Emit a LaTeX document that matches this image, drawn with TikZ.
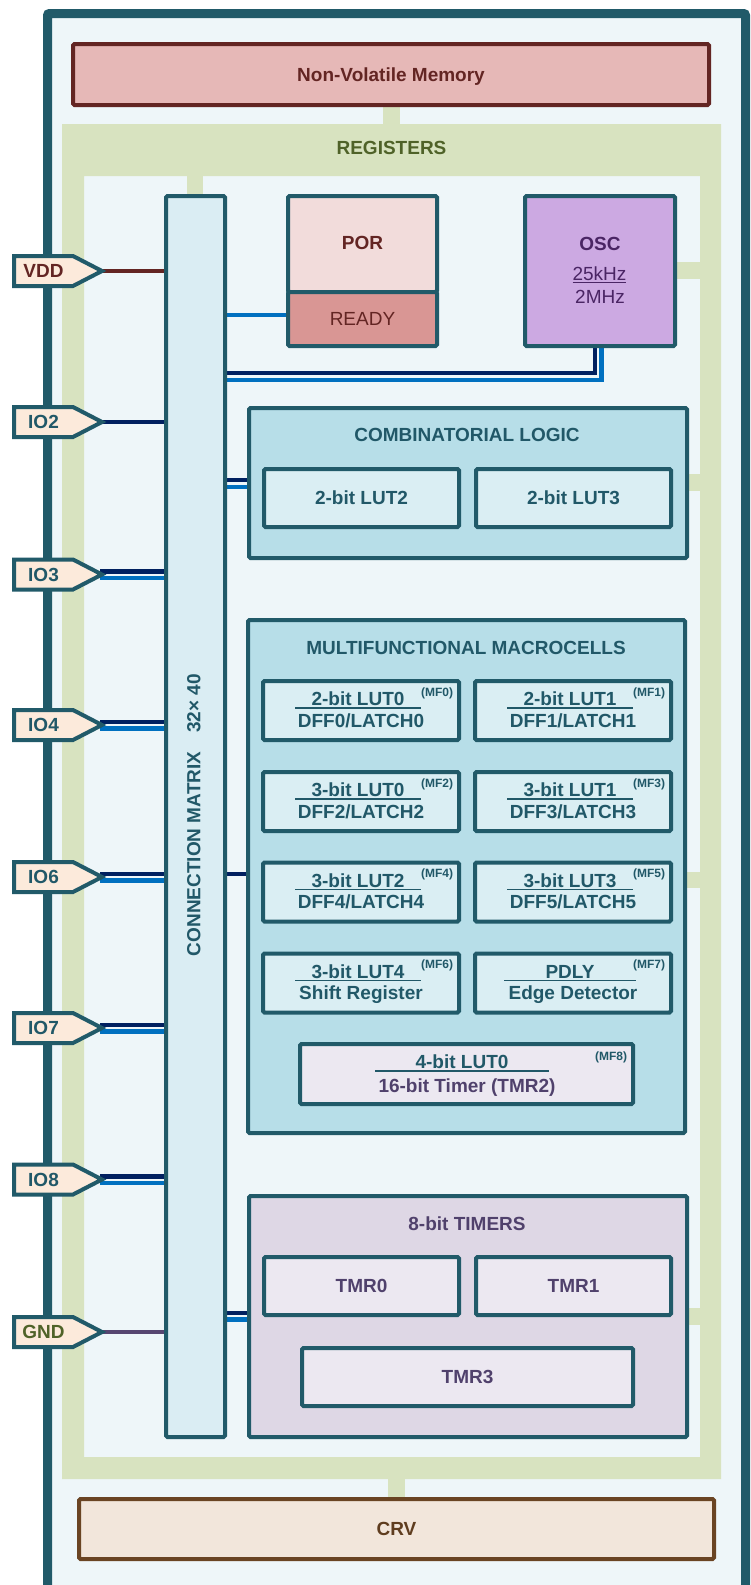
\documentclass[tikz,border=0pt]{standalone}
\usepackage{fontspec}
\setmainfont{Liberation Sans}
\usetikzlibrary{calc}
\pgfdeclarelayer{back}
\pgfdeclarelayer{wires}
\pgfsetlayers{back,wires,main}

\definecolor{edge}{HTML}{215A69}
\definecolor{tealtxt}{HTML}{215868}
\definecolor{chipbg}{HTML}{EEF6F9}
\definecolor{regband}{HTML}{D8E3C0}
\definecolor{regtxt}{HTML}{4F6228}
\definecolor{nvmfill}{HTML}{E6B8B7}
\definecolor{nvmedge}{HTML}{632523}
\definecolor{crvfill}{HTML}{F2E6DB}
\definecolor{crvedge}{HTML}{6A4423}
\definecolor{crvtxt}{HTML}{5F3D1F}
\definecolor{matfill}{HTML}{DAEDF3}
\definecolor{grpfill}{HTML}{B7DEE8}
\definecolor{cellfill}{HTML}{DAEEF3}
\definecolor{porfill}{HTML}{F2DCDB}
\definecolor{readyfill}{HTML}{D99694}
\definecolor{oscfill}{HTML}{CCA9E2}
\definecolor{osctxt}{HTML}{4A2564}
\definecolor{tmrfill}{HTML}{DED7E5}
\definecolor{tmrcell}{HTML}{ECE8F1}
\definecolor{tmrtxt}{HTML}{50416C}
\definecolor{pinfill}{HTML}{FCEADB}
\definecolor{navyline}{HTML}{002060}
\definecolor{blueline}{HTML}{0070C0}
\definecolor{gndline}{HTML}{574671}

% first line of a macrocell, underlined over a fixed width
\newcommand\ulbox[2]{\vtop{\hbox to #1{\hss#2\hss}\kern1.2pt\hrule height 1.6pt}}
% underlined text of natural width
\newcommand\ultext[1]{\vtop{\hbox{#1}\kern1.2pt\hrule height 1.2pt}}

\tikzset{
  blk/.style={draw=edge, line width=4pt, rounded corners=1.5pt, inner sep=0pt, outer sep=0pt},
  ttl/.style={font=\fontsize{19}{22}\selectfont\bfseries, text height=13.6pt, text depth=0pt, inner sep=0pt, outer sep=0pt},
  ttln/.style={font=\fontsize{19}{22}\selectfont, text height=13.6pt, text depth=0pt, inner sep=0pt, outer sep=0pt},
  mftag/.style={font=\fontsize{12}{14}\selectfont\bfseries, text=tealtxt, text height=8.6pt, text depth=0pt, inner sep=0pt},
  wire/.style={line width=4.5pt},
  pinshape/.style={draw=edge, fill=pinfill, line width=4pt, line join=miter},
}

% pin: name, centre y, label, label colour
\newcommand\pin[4]{%
  \draw[pinshape] (14,{#2-15}) -- (73,{#2-15}) -- (102,#2) -- (73,{#2+15}) -- (14,{#2+15}) -- cycle;
  \node[ttl, text=#4] (#1) at (43.5,#2) {#3};
  \coordinate (#1-tip) at (100,#2);
}

% macrocell: name, x, y, first line, underline width, second line, tag
\newcommand\mfcell[7]{%
  \node[blk, fill=cellfill, minimum width=196pt, minimum height=59pt] (#1) at (#2,#3) {};
  \node[ttl, text=tealtxt] (#1-a) at ([xshift=-3pt,yshift=11.5pt]#1.center) {\ulbox{#5pt}{#4}};
  \node[ttl, text=tealtxt] (#1-b) at ([yshift=-10pt]#1.center) {#6};
  \node[mftag] (#1-t) at ([xshift=76pt,yshift=18.5pt]#1.center) {#7};
}

\begin{document}
\begin{tikzpicture}[x=1pt, y=-1pt]
\useasboundingbox (0,0) rectangle (750,1585);

\begin{pgfonlayer}{back}
  \fill[white] (0,0) rectangle (750,1585);
  % chip body
  \fill[chipbg] (47.5,13.5) rectangle (745.5,1600);
  \draw[edge, line width=9pt, rounded corners=2pt] (47.5,1600) -- (47.5,13.5) -- (745.5,13.5) -- (745.5,1600);
  % register frame and its taps
  \fill[regband, even odd rule] (62,124) rectangle (721,1479) (84,176) rectangle (700,1457);
  \fill[regband] (383,104) rectangle (400,124);
  \fill[regband] (388,1479) rectangle (405,1499);
  \fill[regband] (187,176) rectangle (203,197);
  \fill[regband] (674,262) rectangle (700,279);
  \fill[regband] (686,474) rectangle (700,491);
  \fill[regband] (684,872) rectangle (700,888);
  \fill[regband] (686,1308) rectangle (700,1325);
\end{pgfonlayer}

\node[ttl, text=regtxt] (regs) at (391.5,148) {REGISTERS};

% memories
\node[blk, ttl, draw=nvmedge, fill=nvmfill, text=nvmedge, minimum width=636pt, minimum height=61pt] (nvm) at (391,74.5) {Non-Volatile Memory};
\node[blk, ttl, draw=crvedge, fill=crvfill, text=crvtxt, minimum width=635pt, minimum height=60pt] (crv) at (396.5,1529) {CRV};

% connection matrix
\node[blk, fill=matfill, minimum width=59pt, minimum height=1241pt] (mat) at (195.5,816.5) {};
\node[ttl, text=tealtxt, rotate=90] (matlbl) at (193.5,815) {CONNECTION MATRIX\hspace{19pt}32× 40};

% power-on reset
\node[blk, fill=porfill, minimum width=149pt, minimum height=96pt] (por) at (362.5,244) {};
\node[ttl, text=nvmedge] (portxt) at (362.5,243) {POR};
\node[blk, ttln, fill=readyfill, text=nvmedge, minimum width=149pt, minimum height=54pt] (ready) at (362.5,319) {READY};

% oscillator
\node[blk, fill=oscfill, minimum width=150pt, minimum height=150pt] (osc) at (600,271) {};
\node[ttl, text=osctxt] (osct) at (600,243.5) {OSC};
\node[ttln, text=osctxt] (oscf1) at (599.5,274) {\ultext{25kHz}};
\node[ttln, text=osctxt] (oscf2) at (600,296.5) {2MHz};

% combinatorial logic
\node[blk, fill=grpfill, minimum width=438pt, minimum height=150pt] (comb) at (468,483) {};
\node[ttl, text=tealtxt] (combt) at (467,435) {COMBINATORIAL LOGIC};
\node[blk, ttl, fill=cellfill, text=tealtxt, minimum width=195pt, minimum height=58pt] (lut2) at (361.5,498) {2-bit LUT2};
\node[blk, ttl, fill=cellfill, text=tealtxt, minimum width=195pt, minimum height=58pt] (lut3) at (573.5,498) {2-bit LUT3};

% multifunctional macrocells
\node[blk, fill=grpfill, minimum width=437pt, minimum height=513pt] (mf) at (466.5,876.5) {};
\node[ttl, text=tealtxt] (mft) at (466,647.5) {MULTIFUNCTIONAL MACROCELLS};
\mfcell{mf0}{361}{710.5}{2-bit LUT0}{126}{DFF0/LATCH0}{(MF0)}
\mfcell{mf1}{573}{710.5}{2-bit LUT1}{126}{DFF1/LATCH1}{(MF1)}
\mfcell{mf2}{361}{801.5}{3-bit LUT0}{126}{DFF2/LATCH2}{(MF2)}
\mfcell{mf3}{573}{801.5}{3-bit LUT1}{126}{DFF3/LATCH3}{(MF3)}
\mfcell{mf4}{361}{892}{3-bit LUT2}{126}{DFF4/LATCH4}{(MF4)}
\mfcell{mf5}{573}{892}{3-bit LUT3}{126}{DFF5/LATCH5}{(MF5)}
\mfcell{mf6}{361}{983}{3-bit LUT4}{126}{Shift Register}{(MF6)}
\mfcell{mf7}{573}{983}{PDLY}{132}{Edge Detector}{(MF7)}
\node[blk, fill=tmrcell, minimum width=333pt, minimum height=60pt] (mf8) at (466.5,1074) {};
\node[ttl, text=tealtxt] (mf8-a) at ([xshift=-4.5pt,yshift=12pt]mf8.center) {\ulbox{174pt}{4-bit LUT0}};
\node[ttl, text=tmrtxt] (mf8-b) at ([xshift=0.5pt,yshift=-11.5pt]mf8.center) {16-bit Timer (TMR2)};
\node[mftag] (mf8-t) at ([xshift=144.5pt,yshift=18pt]mf8.center) {(MF8)};

% 8-bit timers
\node[blk, fill=tmrfill, minimum width=438pt, minimum height=241pt] (tmr) at (468,1316.5) {};
\node[ttl, text=tmrtxt] (tmrt) at (467,1223.5) {8-bit TIMERS};
\node[blk, ttl, fill=tmrcell, text=tmrtxt, minimum width=195pt, minimum height=58pt] (tmr0) at (361.5,1286) {TMR0};
\node[blk, ttl, fill=tmrcell, text=tmrtxt, minimum width=195pt, minimum height=58pt] (tmr1) at (573.5,1286) {TMR1};
\node[blk, ttl, fill=tmrcell, text=tmrtxt, minimum width=331pt, minimum height=58pt] (tmr3) at (467.5,1377) {TMR3};

% pins
\pin{vdd}{271}{VDD}{nvmedge}
\pin{io2}{422}{IO2}{tealtxt}
\pin{io3}{574.5}{IO3}{tealtxt}
\pin{io4}{725}{IO4}{tealtxt}
\pin{io6}{877}{IO6}{tealtxt}
\pin{io7}{1028}{IO7}{tealtxt}
\pin{io8}{1179.5}{IO8}{tealtxt}
\pin{gnd}{1332}{GND}{regtxt}

\begin{pgfonlayer}{wires}
  % supply
  \draw[wire, nvmedge] (vdd-tip) -- (vdd-tip -| mat.west);
  \draw[wire, gndline] (gnd-tip) -- (gnd-tip -| mat.west);
  % I/O pins
  \draw[wire, navyline] (io2-tip) -- (io2-tip -| mat.west);
  \foreach \p in {io3,io4,io6,io7,io8}{
    \draw[wire, navyline] ([yshift=3.25pt]\p-tip) -- ([yshift=3.25pt]\p-tip -| mat.west);
    \draw[wire, blueline] ([yshift=-3.25pt]\p-tip) -- ([yshift=-3.25pt]\p-tip -| mat.west);
  }
  % internal blocks
  \draw[wire, blueline] (ready.west |- 0,315) -- (mat.east |- 0,315);
  \draw[wire, navyline] ([xshift=-5pt]osc.south) |- (mat.east |- 0,373);
  \draw[wire, blueline] ([xshift=1.5pt]osc.south) |- (mat.east |- 0,380);
  \draw[wire, navyline] (comb.west |- 0,480) -- (mat.east |- 0,480);
  \draw[wire, blueline] (comb.west |- 0,487) -- (mat.east |- 0,487);
  \draw[wire, navyline] (mf.west |- 0,874) -- (mat.east |- 0,874);
  \draw[wire, navyline] (tmr.west |- 0,1313) -- (mat.east |- 0,1313);
  \draw[wire, blueline] (tmr.west |- 0,1319.5) -- (mat.east |- 0,1319.5);
\end{pgfonlayer}
\end{tikzpicture}
\end{document}
